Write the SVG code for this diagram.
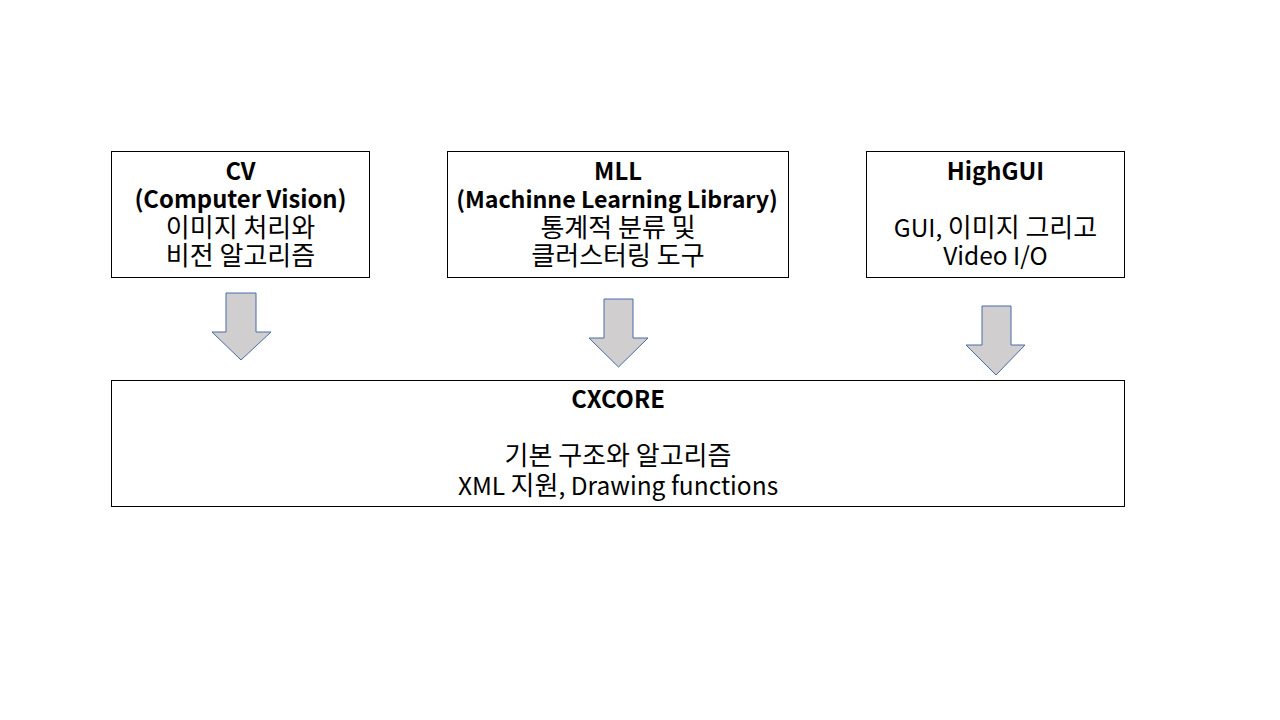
<svg xmlns="http://www.w3.org/2000/svg" width="1280" height="720" viewBox="0 0 1280 720">
<style>
.box{fill:#ffffff;stroke:#000000;stroke-width:1}
.t{font-family:"Noto Sans CJK KR","Noto Sans",sans-serif;font-size:24.5px;fill:#000000;text-anchor:middle}
.b{font-weight:bold;font-size:23.8px}
.k{font-size:26px}
.arr{fill:#d0cece;stroke:#4a6aa5;stroke-width:1}
</style>
<rect width="1280" height="720" fill="#ffffff"/>
<g id="cv">
<rect class="box" x="111.5" y="151.5" width="258" height="126"/>
<text class="t b" x="240.5" y="180">CV</text>
<text class="t b" x="240.5" y="208">(Computer Vision)</text>
<text class="t k" x="240.5" y="237">이미지 처리와</text>
<text class="t k" x="240.5" y="265">비전 알고리즘</text>
</g>
<g id="mll">
<rect class="box" x="447.5" y="151.5" width="341" height="126"/>
<text class="t b" x="618" y="180">MLL</text>
<text class="t b" x="617" y="208" style="font-size:23.2px">(Machinne Learning Library)</text>
<text class="t k" x="618" y="237">통계적 분류 및</text>
<text class="t k" x="618" y="265">클러스터링 도구</text>
</g>
<g id="highgui">
<rect class="box" x="866.5" y="151.5" width="258" height="126"/>
<text class="t b" x="995.5" y="180">HighGUI</text>
<text class="t" x="995.5" y="237">GUI, <tspan class="k">이미지 그리고</tspan></text>
<text class="t" x="995.5" y="265">Video I/O</text>
</g>
<g id="cxcore">
<rect class="box" x="111.5" y="380.5" width="1013" height="126"/>
<text class="t b" x="618" y="408">CXCORE</text>
<text class="t k" x="618" y="465">기본 구조와 알고리즘</text>
<text class="t" x="618" y="495">XML <tspan class="k">지원</tspan>, Drawing functions</text>
</g>
<g id="connectors">
<polygon class="arr" points="226,293 256,293 256,332 271,332 241,360 212,332 226,332"/>
<polygon class="arr" points="604,299 633,299 633,338 648,338 618.5,367 589,338 604,338"/>
<polygon class="arr" points="982,306 1011,306 1011,345 1025,345 996,375 966,345 982,345"/>
</g>
</svg>
